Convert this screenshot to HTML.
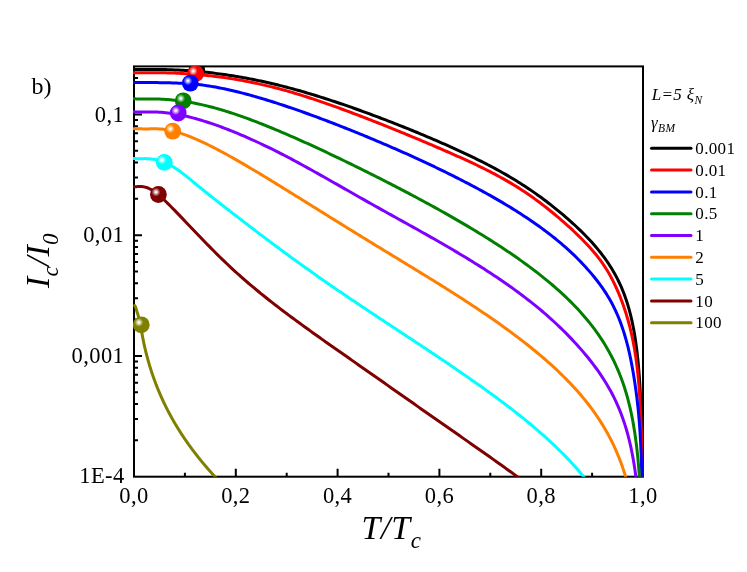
<!DOCTYPE html>
<html><head><meta charset="utf-8"><style>
html,body{margin:0;padding:0;background:#fff;}
svg{display:block;will-change:transform;font-family:"Liberation Serif",serif;}
text{fill:#000;}
</style></head><body>
<svg width="747" height="572" viewBox="0 0 747 572">
<defs>
<clipPath id="clip"><rect x="133.0" y="66.2" width="510.6" height="410.5"/></clipPath>
<radialGradient id="g_black" cx="0.357" cy="0.357" r="0.26"><stop offset="0" stop-color="#ffffff"/><stop offset="0.12" stop-color="#ffffff"/><stop offset="1" stop-color="#ffffff" stop-opacity="0"/></radialGradient><radialGradient id="g_red" cx="0.357" cy="0.357" r="0.26"><stop offset="0" stop-color="#ffffff"/><stop offset="0.12" stop-color="#ffffff"/><stop offset="1" stop-color="#ffffff" stop-opacity="0"/></radialGradient><radialGradient id="g_blue" cx="0.357" cy="0.357" r="0.26"><stop offset="0" stop-color="#ffffff"/><stop offset="0.12" stop-color="#ffffff"/><stop offset="1" stop-color="#ffffff" stop-opacity="0"/></radialGradient><radialGradient id="g_green" cx="0.357" cy="0.357" r="0.26"><stop offset="0" stop-color="#ffffff"/><stop offset="0.12" stop-color="#ffffff"/><stop offset="1" stop-color="#ffffff" stop-opacity="0"/></radialGradient><radialGradient id="g_purple" cx="0.357" cy="0.357" r="0.26"><stop offset="0" stop-color="#ffffff"/><stop offset="0.12" stop-color="#ffffff"/><stop offset="1" stop-color="#ffffff" stop-opacity="0"/></radialGradient><radialGradient id="g_orange" cx="0.357" cy="0.357" r="0.26"><stop offset="0" stop-color="#ffffff"/><stop offset="0.12" stop-color="#ffffff"/><stop offset="1" stop-color="#ffffff" stop-opacity="0"/></radialGradient><radialGradient id="g_cyan" cx="0.357" cy="0.357" r="0.26"><stop offset="0" stop-color="#ffffff"/><stop offset="0.12" stop-color="#ffffff"/><stop offset="1" stop-color="#ffffff" stop-opacity="0"/></radialGradient><radialGradient id="g_wine" cx="0.357" cy="0.357" r="0.26"><stop offset="0" stop-color="#ffffff"/><stop offset="0.12" stop-color="#ffffff"/><stop offset="1" stop-color="#ffffff" stop-opacity="0"/></radialGradient><radialGradient id="g_olive" cx="0.357" cy="0.357" r="0.26"><stop offset="0" stop-color="#ffffff"/><stop offset="0.12" stop-color="#ffffff"/><stop offset="1" stop-color="#ffffff" stop-opacity="0"/></radialGradient>
</defs>
<rect width="747" height="572" fill="#fff"/>
<path d="M134.00,476.7 v-8 M235.80,476.7 v-8 M337.60,476.7 v-8 M439.40,476.7 v-8 M541.20,476.7 v-8 M643.00,476.7 v-8 M184.90,476.7 v-4 M286.70,476.7 v-4 M388.50,476.7 v-4 M490.30,476.7 v-4 M592.10,476.7 v-4 M134.0,440.35 h4 M134.0,419.09 h4 M134.0,404.00 h4 M134.0,392.30 h4 M134.0,382.74 h4 M134.0,374.65 h4 M134.0,367.65 h4 M134.0,361.48 h4 M134.0,355.95 h8 M134.0,319.60 h4 M134.0,298.34 h4 M134.0,283.25 h4 M134.0,271.55 h4 M134.0,261.99 h4 M134.0,253.90 h4 M134.0,246.90 h4 M134.0,240.73 h4 M134.0,235.20 h8 M134.0,198.85 h4 M134.0,177.59 h4 M134.0,162.50 h4 M134.0,150.80 h4 M134.0,141.24 h4 M134.0,133.15 h4 M134.0,126.15 h4 M134.0,119.98 h4 M134.0,114.45 h8 M134.0,78.10 h4 M134.0,114.45 h8" stroke="#000" stroke-width="2" fill="none"/>
<rect x="134.0" y="66.4" width="509.0" height="410.29999999999995" fill="none" stroke="#000" stroke-width="2"/>
<g clip-path="url(#clip)">
<path d="M134.00,69.65 L134.26,69.64 L134.52,69.64 L134.78,69.63 L135.04,69.63 L135.31,69.62 L135.57,69.62 L135.83,69.61 L136.09,69.61 L136.35,69.60 L136.61,69.60 L136.87,69.59 L137.13,69.59 L137.39,69.58 L137.65,69.58 L137.92,69.57 L138.18,69.57 L138.44,69.56 L138.70,69.56 L138.96,69.55 L139.22,69.55 L139.48,69.54 L139.74,69.54 L140.00,69.53 L140.26,69.53 L140.53,69.52 L140.79,69.52 L141.05,69.52 L141.31,69.51 L141.57,69.51 L141.83,69.50 L142.09,69.50 L142.35,69.50 L142.61,69.49 L142.87,69.49 L143.14,69.48 L143.40,69.48 L143.66,69.48 L143.92,69.47 L144.18,69.47 L146.34,69.45 L148.50,69.43 L150.66,69.42 L152.83,69.42 L154.99,69.43 L157.15,69.44 L159.31,69.47 L161.47,69.50 L163.63,69.54 L165.80,69.59 L167.96,69.65 L170.12,69.72 L172.28,69.80 L174.44,69.89 L176.60,69.99 L178.76,70.10 L180.93,70.21 L183.09,70.34 L185.25,70.48 L187.41,70.62 L189.57,70.78 L191.73,70.94 L193.89,71.12 L196.06,71.30 L198.22,71.49 L200.38,71.70 L202.54,71.91 L204.70,72.13 L206.86,72.36 L209.03,72.60 L211.19,72.85 L213.35,73.11 L215.51,73.37 L217.67,73.65 L219.83,73.94 L221.99,74.23 L224.16,74.54 L226.32,74.85 L228.48,75.17 L230.64,75.50 L232.80,75.85 L234.96,76.20 L237.12,76.55 L239.29,76.92 L241.45,77.30 L243.61,77.68 L245.77,78.08 L247.93,78.48 L250.09,78.90 L252.26,79.32 L254.42,79.75 L256.58,80.19 L258.74,80.64 L260.90,81.09 L263.06,81.56 L265.22,82.03 L267.39,82.52 L269.55,83.01 L271.71,83.51 L273.87,84.02 L276.03,84.54 L278.19,85.06 L280.35,85.60 L282.52,86.14 L284.68,86.70 L286.84,87.26 L289.00,87.83 L291.16,88.41 L293.32,88.99 L295.49,89.59 L297.65,90.19 L299.81,90.80 L301.97,91.42 L304.13,92.05 L306.29,92.69 L308.45,93.33 L310.62,93.98 L312.78,94.63 L314.94,95.29 L317.10,95.96 L319.26,96.64 L321.42,97.32 L323.59,98.01 L325.75,98.70 L327.91,99.40 L330.07,100.10 L332.23,100.82 L334.39,101.53 L336.55,102.25 L338.72,102.98 L340.88,103.71 L343.04,104.45 L345.20,105.20 L347.36,105.94 L349.52,106.70 L351.68,107.45 L353.85,108.22 L356.01,108.98 L358.17,109.76 L360.33,110.53 L362.49,111.31 L364.65,112.10 L366.82,112.89 L368.98,113.69 L371.14,114.48 L373.30,115.29 L375.46,116.10 L377.62,116.91 L379.78,117.73 L381.95,118.55 L384.11,119.37 L386.27,120.20 L388.43,121.04 L390.59,121.87 L392.75,122.72 L394.91,123.56 L397.08,124.41 L399.24,125.27 L401.40,126.13 L403.56,126.99 L405.72,127.86 L407.88,128.73 L410.05,129.60 L412.21,130.49 L414.37,131.37 L416.53,132.26 L418.69,133.15 L420.85,134.05 L423.01,134.95 L425.18,135.86 L427.34,136.77 L429.50,137.69 L431.66,138.61 L433.82,139.54 L435.98,140.47 L438.14,141.40 L440.31,142.34 L442.47,143.29 L444.63,144.24 L446.79,145.20 L448.95,146.16 L451.11,147.12 L453.28,148.10 L455.44,149.08 L457.60,150.06 L459.76,151.05 L461.92,152.05 L464.08,153.06 L466.24,154.08 L468.41,155.10 L470.57,156.13 L472.73,157.17 L474.89,158.22 L477.05,159.28 L479.21,160.35 L481.38,161.44 L483.54,162.53 L485.70,163.63 L487.86,164.75 L490.02,165.88 L492.18,167.02 L494.34,168.18 L496.51,169.35 L498.67,170.53 L500.83,171.73 L502.99,172.94 L505.15,174.17 L507.31,175.42 L509.47,176.68 L511.64,177.96 L513.80,179.26 L515.96,180.58 L518.12,181.91 L520.28,183.27 L522.44,184.65 L524.61,186.05 L526.77,187.47 L528.93,188.91 L531.09,190.38 L533.25,191.87 L535.41,193.39 L537.57,194.93 L539.74,196.49 L541.90,198.07 L544.06,199.68 L546.22,201.31 L548.38,202.97 L550.54,204.64 L552.70,206.34 L554.87,208.06 L557.03,209.81 L559.19,211.58 L561.35,213.38 L563.51,215.20 L565.67,217.05 L567.84,218.93 L570.00,220.83 L572.16,222.77 L574.32,224.75 L576.48,226.76 L578.64,228.80 L580.80,230.89 L582.97,233.02 L585.13,235.20 L587.29,237.44 L589.45,239.73 L591.61,242.08 L593.77,244.51 L595.93,247.00 L598.10,249.59 L600.26,252.27 L602.42,255.05 L604.58,257.96 L606.74,261.00 L608.90,264.20 L611.07,267.58 L613.23,271.16 L615.39,274.99 L617.55,279.11 L618.84,281.74 L620.07,284.36 L621.24,286.98 L622.35,289.59 L623.40,292.20 L624.40,294.81 L625.34,297.42 L626.24,300.02 L627.09,302.63 L627.90,305.24 L628.67,307.85 L629.40,310.46 L630.09,313.08 L630.75,315.69 L631.37,318.31 L631.96,320.94 L632.53,323.56 L633.06,326.19 L633.56,328.82 L634.04,331.46 L634.50,334.09 L634.93,336.74 L635.34,339.38 L635.73,342.03 L636.10,344.68 L636.45,347.34 L636.79,350.00 L637.10,352.66 L637.40,355.32 L637.69,357.99 L637.96,360.66 L638.21,363.33 L638.46,366.01 L638.69,368.69 L638.91,371.37 L639.12,374.05 L639.31,376.74 L639.50,379.43 L639.68,382.12 L639.85,384.81 L640.01,387.51 L640.16,390.20 L640.31,392.90 L640.44,395.60 L640.57,398.31 L640.70,401.01 L640.81,403.72 L640.92,406.42 L641.03,409.13 L641.13,411.84 L641.23,414.56 L641.32,417.27 L641.40,419.98 L641.48,422.70 L641.56,425.41 L641.63,428.13 L641.70,430.85 L641.77,433.57 L641.83,436.29 L641.89,439.01 L641.95,441.73 L642.00,444.46 L642.05,447.18 L642.10,449.91 L642.15,452.63 L642.19,455.36 L642.23,458.08 L642.27,460.81 L642.31,463.54 L642.34,466.27 L642.38,469.00 L642.41,471.72 L642.44,474.45 L642.47,477.18 L642.49,479.92 L642.52,482.65" fill="none" stroke="#000000" stroke-width="3" stroke-linejoin="round" stroke-linecap="round"/>
<circle cx="196.8" cy="70.6" r="8.4" fill="#000000"/><circle cx="196.8" cy="70.6" r="8.4" fill="url(#g_black)"/>
<path d="M134.00,72.71 L134.26,72.71 L134.52,72.72 L134.78,72.72 L135.04,72.72 L135.31,72.72 L135.57,72.73 L135.83,72.73 L136.09,72.73 L136.35,72.73 L136.61,72.73 L136.87,72.74 L137.13,72.74 L137.39,72.74 L137.65,72.74 L137.92,72.74 L138.18,72.74 L138.44,72.74 L138.70,72.74 L138.96,72.74 L139.22,72.74 L139.48,72.74 L139.74,72.74 L140.00,72.74 L140.26,72.74 L140.53,72.74 L140.79,72.74 L141.05,72.74 L141.31,72.74 L141.57,72.74 L141.83,72.74 L142.09,72.74 L142.35,72.74 L142.61,72.74 L142.87,72.74 L143.14,72.74 L143.40,72.74 L143.66,72.74 L143.92,72.74 L144.18,72.74 L146.34,72.73 L148.50,72.73 L150.66,72.73 L152.83,72.73 L154.99,72.74 L157.15,72.75 L159.31,72.77 L161.47,72.80 L163.63,72.83 L165.80,72.87 L167.96,72.92 L170.12,72.98 L172.28,73.05 L174.44,73.12 L176.60,73.20 L178.76,73.30 L180.93,73.40 L183.09,73.51 L185.25,73.64 L187.41,73.77 L189.57,73.91 L191.73,74.06 L193.89,74.22 L196.06,74.39 L198.22,74.58 L200.38,74.77 L202.54,74.97 L204.70,75.18 L206.86,75.41 L209.03,75.64 L211.19,75.88 L213.35,76.14 L215.51,76.40 L217.67,76.68 L219.83,76.96 L221.99,77.26 L224.16,77.56 L226.32,77.88 L228.48,78.21 L230.64,78.54 L232.80,78.89 L234.96,79.25 L237.12,79.62 L239.29,79.99 L241.45,80.38 L243.61,80.78 L245.77,81.19 L247.93,81.61 L250.09,82.04 L252.26,82.48 L254.42,82.93 L256.58,83.39 L258.74,83.87 L260.90,84.35 L263.06,84.84 L265.22,85.34 L267.39,85.85 L269.55,86.38 L271.71,86.91 L273.87,87.45 L276.03,88.01 L278.19,88.57 L280.35,89.15 L282.52,89.73 L284.68,90.32 L286.84,90.93 L289.00,91.54 L291.16,92.17 L293.32,92.80 L295.49,93.45 L297.65,94.10 L299.81,94.76 L301.97,95.44 L304.13,96.12 L306.29,96.80 L308.45,97.50 L310.62,98.20 L312.78,98.92 L314.94,99.63 L317.10,100.36 L319.26,101.09 L321.42,101.83 L323.59,102.57 L325.75,103.33 L327.91,104.08 L330.07,104.84 L332.23,105.61 L334.39,106.38 L336.55,107.16 L338.72,107.95 L340.88,108.73 L343.04,109.53 L345.20,110.33 L347.36,111.13 L349.52,111.93 L351.68,112.74 L353.85,113.56 L356.01,114.38 L358.17,115.20 L360.33,116.02 L362.49,116.85 L364.65,117.69 L366.82,118.52 L368.98,119.36 L371.14,120.21 L373.30,121.05 L375.46,121.90 L377.62,122.76 L379.78,123.61 L381.95,124.47 L384.11,125.33 L386.27,126.20 L388.43,127.06 L390.59,127.93 L392.75,128.81 L394.91,129.68 L397.08,130.56 L399.24,131.44 L401.40,132.33 L403.56,133.21 L405.72,134.10 L407.88,134.99 L410.05,135.89 L412.21,136.78 L414.37,137.68 L416.53,138.58 L418.69,139.49 L420.85,140.39 L423.01,141.30 L425.18,142.22 L427.34,143.13 L429.50,144.05 L431.66,144.97 L433.82,145.89 L435.98,146.82 L438.14,147.75 L440.31,148.68 L442.47,149.62 L444.63,150.56 L446.79,151.50 L448.95,152.44 L451.11,153.39 L453.28,154.34 L455.44,155.30 L457.60,156.26 L459.76,157.23 L461.92,158.20 L464.08,159.18 L466.24,160.17 L468.41,161.16 L470.57,162.17 L472.73,163.18 L474.89,164.20 L477.05,165.23 L479.21,166.28 L481.38,167.33 L483.54,168.40 L485.70,169.48 L487.86,170.57 L490.02,171.68 L492.18,172.80 L494.34,173.94 L496.51,175.09 L498.67,176.26 L500.83,177.45 L502.99,178.65 L505.15,179.88 L507.31,181.12 L509.47,182.38 L511.64,183.66 L513.80,184.97 L515.96,186.29 L518.12,187.64 L520.28,189.01 L522.44,190.41 L524.61,191.83 L526.77,193.28 L528.93,194.75 L531.09,196.26 L533.25,197.79 L535.41,199.35 L537.57,200.93 L539.74,202.55 L541.90,204.18 L544.06,205.85 L546.22,207.54 L548.38,209.25 L550.54,210.98 L552.70,212.74 L554.87,214.53 L557.03,216.34 L559.19,218.17 L561.35,220.03 L563.51,221.91 L565.67,223.82 L567.84,225.76 L570.00,227.72 L572.16,229.72 L574.32,231.75 L576.48,233.81 L578.64,235.90 L580.80,238.04 L582.97,240.21 L585.13,242.43 L587.29,244.70 L589.45,247.04 L591.61,249.46 L593.77,251.96 L595.93,254.57 L598.10,257.30 L600.26,260.16 L602.42,263.18 L604.58,266.37 L606.74,269.75 L608.90,273.35 L611.07,277.20 L613.23,281.34 L615.39,285.80 L617.55,290.60 L618.84,293.66 L620.07,296.68 L621.24,299.68 L622.35,302.65 L623.40,305.58 L624.40,308.47 L625.34,311.34 L626.24,314.17 L627.09,316.98 L627.90,319.76 L628.67,322.51 L629.40,325.24 L630.09,327.95 L630.75,330.63 L631.37,333.31 L631.96,335.96 L632.53,338.61 L633.06,341.24 L633.56,343.87 L634.04,346.49 L634.50,349.10 L634.93,351.70 L635.34,354.30 L635.73,356.90 L636.10,359.50 L636.45,362.10 L636.79,364.69 L637.10,367.29 L637.40,369.88 L637.69,372.48 L637.96,375.08 L638.21,377.68 L638.46,380.29 L638.69,382.89 L638.91,385.50 L639.12,388.12 L639.31,390.74 L639.50,393.36 L639.68,395.98 L639.85,398.61 L640.01,401.24 L640.16,403.87 L640.31,406.51 L640.44,409.15 L640.57,411.80 L640.70,414.45 L640.81,417.10 L640.92,419.76 L641.03,422.41 L641.13,425.08 L641.23,427.74 L641.32,430.41 L641.40,433.08 L641.48,435.76 L641.56,438.43 L641.63,441.11 L641.70,443.80 L641.77,446.48 L641.83,449.17 L641.89,451.86 L641.95,454.55 L642.00,457.24 L642.05,459.94 L642.10,462.64 L642.15,465.34 L642.19,468.04 L642.23,470.74 L642.27,473.45 L642.31,476.15 L642.34,478.86 L642.38,481.57" fill="none" stroke="#ff0000" stroke-width="3" stroke-linejoin="round" stroke-linecap="round"/>
<circle cx="195.6" cy="73.5" r="8.4" fill="#ff0000"/><circle cx="195.6" cy="73.5" r="8.4" fill="url(#g_red)"/>
<path d="M134.00,82.50 L134.26,82.50 L134.52,82.50 L134.78,82.50 L135.04,82.50 L135.31,82.50 L135.57,82.50 L135.83,82.50 L136.09,82.50 L136.35,82.50 L136.61,82.50 L136.87,82.50 L137.13,82.50 L137.39,82.50 L137.65,82.50 L137.92,82.50 L138.18,82.50 L138.44,82.50 L138.70,82.50 L138.96,82.50 L139.22,82.51 L139.48,82.51 L139.74,82.51 L140.00,82.51 L140.26,82.51 L140.53,82.51 L140.79,82.51 L141.05,82.51 L141.31,82.51 L141.57,82.51 L141.83,82.51 L142.09,82.51 L142.35,82.51 L142.61,82.51 L142.87,82.51 L143.14,82.51 L143.40,82.52 L143.66,82.52 L143.92,82.52 L144.18,82.52 L146.34,82.53 L148.50,82.54 L150.66,82.56 L152.83,82.58 L154.99,82.60 L157.15,82.62 L159.31,82.66 L161.47,82.69 L163.63,82.73 L165.80,82.77 L167.96,82.82 L170.12,82.87 L172.28,82.93 L174.44,83.00 L176.60,83.07 L178.76,83.16 L180.93,83.25 L183.09,83.36 L185.25,83.49 L187.41,83.63 L189.57,83.78 L191.73,83.96 L193.89,84.15 L196.06,84.35 L198.22,84.58 L200.38,84.83 L202.54,85.09 L204.70,85.38 L206.86,85.68 L209.03,86.01 L211.19,86.36 L213.35,86.72 L215.51,87.10 L217.67,87.50 L219.83,87.92 L221.99,88.35 L224.16,88.79 L226.32,89.26 L228.48,89.73 L230.64,90.22 L232.80,90.72 L234.96,91.23 L237.12,91.76 L239.29,92.30 L241.45,92.85 L243.61,93.41 L245.77,93.98 L247.93,94.56 L250.09,95.15 L252.26,95.75 L254.42,96.36 L256.58,96.98 L258.74,97.61 L260.90,98.24 L263.06,98.89 L265.22,99.54 L267.39,100.20 L269.55,100.87 L271.71,101.55 L273.87,102.23 L276.03,102.92 L278.19,103.62 L280.35,104.33 L282.52,105.04 L284.68,105.75 L286.84,106.48 L289.00,107.21 L291.16,107.94 L293.32,108.69 L295.49,109.43 L297.65,110.19 L299.81,110.94 L301.97,111.71 L304.13,112.48 L306.29,113.25 L308.45,114.03 L310.62,114.82 L312.78,115.60 L314.94,116.40 L317.10,117.20 L319.26,118.00 L321.42,118.81 L323.59,119.62 L325.75,120.44 L327.91,121.26 L330.07,122.09 L332.23,122.92 L334.39,123.75 L336.55,124.59 L338.72,125.43 L340.88,126.28 L343.04,127.13 L345.20,127.98 L347.36,128.84 L349.52,129.71 L351.68,130.57 L353.85,131.44 L356.01,132.32 L358.17,133.20 L360.33,134.08 L362.49,134.96 L364.65,135.85 L366.82,136.75 L368.98,137.64 L371.14,138.54 L373.30,139.45 L375.46,140.36 L377.62,141.27 L379.78,142.19 L381.95,143.11 L384.11,144.03 L386.27,144.96 L388.43,145.89 L390.59,146.83 L392.75,147.77 L394.91,148.71 L397.08,149.66 L399.24,150.61 L401.40,151.57 L403.56,152.53 L405.72,153.49 L407.88,154.46 L410.05,155.44 L412.21,156.42 L414.37,157.40 L416.53,158.39 L418.69,159.38 L420.85,160.38 L423.01,161.38 L425.18,162.38 L427.34,163.40 L429.50,164.41 L431.66,165.43 L433.82,166.46 L435.98,167.49 L438.14,168.53 L440.31,169.58 L442.47,170.63 L444.63,171.68 L446.79,172.74 L448.95,173.81 L451.11,174.88 L453.28,175.96 L455.44,177.05 L457.60,178.14 L459.76,179.24 L461.92,180.34 L464.08,181.46 L466.24,182.57 L468.41,183.70 L470.57,184.84 L472.73,185.98 L474.89,187.13 L477.05,188.29 L479.21,189.46 L481.38,190.63 L483.54,191.82 L485.70,193.01 L487.86,194.21 L490.02,195.42 L492.18,196.65 L494.34,197.88 L496.51,199.12 L498.67,200.37 L500.83,201.64 L502.99,202.91 L505.15,204.20 L507.31,205.50 L509.47,206.81 L511.64,208.14 L513.80,209.48 L515.96,210.83 L518.12,212.20 L520.28,213.58 L522.44,214.98 L524.61,216.39 L526.77,217.83 L528.93,219.27 L531.09,220.74 L533.25,222.23 L535.41,223.73 L537.57,225.25 L539.74,226.80 L541.90,228.37 L544.06,229.96 L546.22,231.58 L548.38,233.22 L550.54,234.88 L552.70,236.58 L554.87,238.30 L557.03,240.06 L559.19,241.85 L561.35,243.67 L563.51,245.53 L565.67,247.42 L567.84,249.36 L570.00,251.33 L572.16,253.36 L574.32,255.42 L576.48,257.54 L578.64,259.70 L580.80,261.92 L582.97,264.19 L585.13,266.52 L587.29,268.91 L589.45,271.37 L591.61,273.90 L593.77,276.51 L595.93,279.21 L598.10,282.00 L600.26,284.90 L602.42,287.92 L604.58,291.08 L606.74,294.43 L608.90,297.98 L611.07,301.78 L613.23,305.88 L615.39,310.32 L617.55,315.16 L618.84,318.28 L620.07,321.41 L621.24,324.56 L622.35,327.71 L623.40,330.87 L624.40,334.04 L625.34,337.21 L626.24,340.39 L627.09,343.56 L627.90,346.73 L628.67,349.90 L629.40,353.07 L630.09,356.23 L630.75,359.38 L631.37,362.53 L631.96,365.66 L632.53,368.76 L633.06,371.83 L633.56,374.84 L634.04,377.81 L634.50,380.72 L634.93,383.58 L635.34,386.39 L635.73,389.16 L636.10,391.87 L636.45,394.55 L636.79,397.18 L637.10,399.78 L637.40,402.35 L637.69,404.89 L637.96,407.41 L638.21,409.90 L638.46,412.38 L638.69,414.84 L638.91,417.29 L639.12,419.72 L639.31,422.16 L639.50,424.58 L639.68,427.00 L639.85,429.42 L640.01,431.84 L640.16,434.26 L640.31,436.69 L640.44,439.11 L640.57,441.54 L640.70,443.98 L640.81,446.42 L640.92,448.87 L641.03,451.32 L641.13,453.79 L641.23,456.26 L641.32,458.73 L641.40,461.22 L641.48,463.71 L641.56,466.21 L641.63,468.72 L641.70,471.24 L641.77,473.76 L641.83,476.29 L641.89,478.83 L641.95,481.38" fill="none" stroke="#0000ff" stroke-width="3" stroke-linejoin="round" stroke-linecap="round"/>
<circle cx="190.3" cy="83.2" r="8.4" fill="#0000ff"/><circle cx="190.3" cy="83.2" r="8.4" fill="url(#g_blue)"/>
<path d="M134.00,98.84 L134.26,98.85 L134.52,98.85 L134.78,98.86 L135.04,98.86 L135.31,98.87 L135.57,98.87 L135.83,98.87 L136.09,98.88 L136.35,98.88 L136.61,98.88 L136.87,98.88 L137.13,98.89 L137.39,98.89 L137.65,98.89 L137.92,98.89 L138.18,98.89 L138.44,98.89 L138.70,98.90 L138.96,98.90 L139.22,98.90 L139.48,98.90 L139.74,98.90 L140.00,98.90 L140.26,98.90 L140.53,98.90 L140.79,98.90 L141.05,98.90 L141.31,98.90 L141.57,98.90 L141.83,98.90 L142.09,98.90 L142.35,98.90 L142.61,98.90 L142.87,98.90 L143.14,98.90 L143.40,98.90 L143.66,98.90 L143.92,98.90 L144.18,98.90 L146.34,98.90 L148.50,98.90 L150.66,98.92 L152.83,98.95 L154.99,98.99 L157.15,99.04 L159.31,99.12 L161.47,99.21 L163.63,99.32 L165.80,99.45 L167.96,99.60 L170.12,99.77 L172.28,99.96 L174.44,100.17 L176.60,100.41 L178.76,100.66 L180.93,100.94 L183.09,101.23 L185.25,101.55 L187.41,101.89 L189.57,102.25 L191.73,102.64 L193.89,103.04 L196.06,103.46 L198.22,103.91 L200.38,104.37 L202.54,104.85 L204.70,105.36 L206.86,105.88 L209.03,106.42 L211.19,106.98 L213.35,107.55 L215.51,108.14 L217.67,108.75 L219.83,109.37 L221.99,110.01 L224.16,110.66 L226.32,111.33 L228.48,112.01 L230.64,112.70 L232.80,113.41 L234.96,114.13 L237.12,114.87 L239.29,115.61 L241.45,116.37 L243.61,117.14 L245.77,117.92 L247.93,118.71 L250.09,119.51 L252.26,120.32 L254.42,121.14 L256.58,121.97 L258.74,122.81 L260.90,123.66 L263.06,124.51 L265.22,125.37 L267.39,126.24 L269.55,127.12 L271.71,128.01 L273.87,128.90 L276.03,129.80 L278.19,130.70 L280.35,131.62 L282.52,132.53 L284.68,133.46 L286.84,134.39 L289.00,135.32 L291.16,136.27 L293.32,137.21 L295.49,138.17 L297.65,139.12 L299.81,140.09 L301.97,141.05 L304.13,142.02 L306.29,143.00 L308.45,143.98 L310.62,144.97 L312.78,145.96 L314.94,146.95 L317.10,147.95 L319.26,148.95 L321.42,149.96 L323.59,150.97 L325.75,151.98 L327.91,153.00 L330.07,154.02 L332.23,155.05 L334.39,156.08 L336.55,157.11 L338.72,158.15 L340.88,159.19 L343.04,160.23 L345.20,161.27 L347.36,162.32 L349.52,163.37 L351.68,164.43 L353.85,165.49 L356.01,166.55 L358.17,167.62 L360.33,168.68 L362.49,169.75 L364.65,170.83 L366.82,171.91 L368.98,172.99 L371.14,174.07 L373.30,175.15 L375.46,176.24 L377.62,177.34 L379.78,178.43 L381.95,179.53 L384.11,180.63 L386.27,181.73 L388.43,182.84 L390.59,183.95 L392.75,185.06 L394.91,186.18 L397.08,187.30 L399.24,188.43 L401.40,189.55 L403.56,190.68 L405.72,191.82 L407.88,192.95 L410.05,194.10 L412.21,195.24 L414.37,196.39 L416.53,197.54 L418.69,198.70 L420.85,199.86 L423.01,201.03 L425.18,202.20 L427.34,203.37 L429.50,204.55 L431.66,205.73 L433.82,206.92 L435.98,208.11 L438.14,209.31 L440.31,210.51 L442.47,211.72 L444.63,212.93 L446.79,214.15 L448.95,215.37 L451.11,216.60 L453.28,217.84 L455.44,219.08 L457.60,220.33 L459.76,221.58 L461.92,222.84 L464.08,224.10 L466.24,225.38 L468.41,226.66 L470.57,227.95 L472.73,229.24 L474.89,230.54 L477.05,231.85 L479.21,233.17 L481.38,234.49 L483.54,235.83 L485.70,237.17 L487.86,238.52 L490.02,239.89 L492.18,241.26 L494.34,242.64 L496.51,244.03 L498.67,245.43 L500.83,246.84 L502.99,248.26 L505.15,249.70 L507.31,251.15 L509.47,252.60 L511.64,254.08 L513.80,255.56 L515.96,257.06 L518.12,258.57 L520.28,260.10 L522.44,261.64 L524.61,263.20 L526.77,264.78 L528.93,266.37 L531.09,267.98 L533.25,269.61 L535.41,271.26 L537.57,272.92 L539.74,274.61 L541.90,276.33 L544.06,278.06 L546.22,279.82 L548.38,281.60 L550.54,283.41 L552.70,285.25 L554.87,287.11 L557.03,289.01 L559.19,290.94 L561.35,292.90 L563.51,294.90 L565.67,296.94 L567.84,299.01 L570.00,301.13 L572.16,303.30 L574.32,305.51 L576.48,307.77 L578.64,310.09 L580.80,312.46 L582.97,314.90 L585.13,317.40 L587.29,319.98 L589.45,322.63 L591.61,325.37 L593.77,328.20 L595.93,331.13 L598.10,334.18 L600.26,337.34 L602.42,340.63 L604.58,344.07 L606.74,347.68 L608.90,351.47 L611.07,355.48 L613.23,359.72 L615.39,364.24 L617.55,369.08 L618.84,372.15 L620.07,375.21 L621.24,378.26 L622.35,381.28 L623.40,384.30 L624.40,387.29 L625.34,390.28 L626.24,393.25 L627.09,396.21 L627.90,399.16 L628.67,402.10 L629.40,405.02 L630.09,407.94 L630.75,410.85 L631.37,413.75 L631.96,416.64 L632.53,419.52 L633.06,422.40 L633.56,425.27 L634.04,428.13 L634.50,430.99 L634.93,433.84 L635.34,436.68 L635.73,439.52 L636.10,442.35 L636.45,445.18 L636.79,448.01 L637.10,450.83 L637.40,453.64 L637.69,456.45 L637.96,459.26 L638.21,462.07 L638.46,464.87 L638.69,467.67 L638.91,470.46 L639.12,473.25 L639.31,476.04 L639.50,478.83 L639.68,481.61" fill="none" stroke="#007f00" stroke-width="3" stroke-linejoin="round" stroke-linecap="round"/>
<circle cx="183.2" cy="100.8" r="8.4" fill="#007f00"/><circle cx="183.2" cy="100.8" r="8.4" fill="url(#g_green)"/>
<path d="M134.00,111.81 L134.26,111.83 L134.52,111.85 L134.78,111.87 L135.04,111.89 L135.31,111.91 L135.57,111.92 L135.83,111.94 L136.09,111.95 L136.35,111.96 L136.61,111.98 L136.87,111.99 L137.13,112.00 L137.39,112.00 L137.65,112.01 L137.92,112.02 L138.18,112.03 L138.44,112.03 L138.70,112.04 L138.96,112.04 L139.22,112.04 L139.48,112.05 L139.74,112.05 L140.00,112.05 L140.26,112.05 L140.53,112.06 L140.79,112.06 L141.05,112.06 L141.31,112.06 L141.57,112.06 L141.83,112.06 L142.09,112.06 L142.35,112.06 L142.61,112.05 L142.87,112.05 L143.14,112.05 L143.40,112.05 L143.66,112.05 L143.92,112.05 L144.18,112.04 L146.34,112.02 L148.50,112.01 L150.66,112.00 L152.83,112.01 L154.99,112.04 L157.15,112.11 L159.31,112.20 L161.47,112.33 L163.63,112.49 L165.80,112.70 L167.96,112.94 L170.12,113.21 L172.28,113.52 L174.44,113.87 L176.60,114.24 L178.76,114.64 L180.93,115.07 L183.09,115.52 L185.25,116.00 L187.41,116.51 L189.57,117.03 L191.73,117.58 L193.89,118.15 L196.06,118.75 L198.22,119.36 L200.38,119.99 L202.54,120.64 L204.70,121.31 L206.86,122.00 L209.03,122.70 L211.19,123.42 L213.35,124.15 L215.51,124.91 L217.67,125.67 L219.83,126.45 L221.99,127.25 L224.16,128.06 L226.32,128.89 L228.48,129.73 L230.64,130.58 L232.80,131.44 L234.96,132.32 L237.12,133.21 L239.29,134.11 L241.45,135.02 L243.61,135.95 L245.77,136.89 L247.93,137.83 L250.09,138.79 L252.26,139.76 L254.42,140.75 L256.58,141.74 L258.74,142.74 L260.90,143.75 L263.06,144.77 L265.22,145.81 L267.39,146.85 L269.55,147.90 L271.71,148.96 L273.87,150.03 L276.03,151.11 L278.19,152.20 L280.35,153.30 L282.52,154.41 L284.68,155.52 L286.84,156.65 L289.00,157.78 L291.16,158.93 L293.32,160.08 L295.49,161.24 L297.65,162.40 L299.81,163.57 L301.97,164.75 L304.13,165.94 L306.29,167.13 L308.45,168.32 L310.62,169.52 L312.78,170.73 L314.94,171.94 L317.10,173.15 L319.26,174.36 L321.42,175.58 L323.59,176.80 L325.75,178.02 L327.91,179.25 L330.07,180.48 L332.23,181.70 L334.39,182.93 L336.55,184.16 L338.72,185.39 L340.88,186.62 L343.04,187.86 L345.20,189.09 L347.36,190.32 L349.52,191.55 L351.68,192.78 L353.85,194.01 L356.01,195.24 L358.17,196.46 L360.33,197.69 L362.49,198.91 L364.65,200.14 L366.82,201.36 L368.98,202.58 L371.14,203.79 L373.30,205.01 L375.46,206.22 L377.62,207.43 L379.78,208.64 L381.95,209.84 L384.11,211.05 L386.27,212.25 L388.43,213.45 L390.59,214.65 L392.75,215.85 L394.91,217.05 L397.08,218.25 L399.24,219.45 L401.40,220.65 L403.56,221.84 L405.72,223.04 L407.88,224.25 L410.05,225.45 L412.21,226.65 L414.37,227.86 L416.53,229.06 L418.69,230.27 L420.85,231.48 L423.01,232.69 L425.18,233.91 L427.34,235.13 L429.50,236.35 L431.66,237.58 L433.82,238.81 L435.98,240.04 L438.14,241.27 L440.31,242.52 L442.47,243.76 L444.63,245.01 L446.79,246.27 L448.95,247.53 L451.11,248.79 L453.28,250.06 L455.44,251.34 L457.60,252.63 L459.76,253.92 L461.92,255.21 L464.08,256.52 L466.24,257.83 L468.41,259.15 L470.57,260.47 L472.73,261.81 L474.89,263.15 L477.05,264.50 L479.21,265.86 L481.38,267.23 L483.54,268.61 L485.70,270.00 L487.86,271.40 L490.02,272.81 L492.18,274.23 L494.34,275.66 L496.51,277.11 L498.67,278.57 L500.83,280.03 L502.99,281.52 L505.15,283.01 L507.31,284.52 L509.47,286.05 L511.64,287.58 L513.80,289.14 L515.96,290.71 L518.12,292.29 L520.28,293.90 L522.44,295.52 L524.61,297.16 L526.77,298.82 L528.93,300.50 L531.09,302.19 L533.25,303.91 L535.41,305.66 L537.57,307.42 L539.74,309.21 L541.90,311.02 L544.06,312.86 L546.22,314.73 L548.38,316.62 L550.54,318.55 L552.70,320.50 L554.87,322.49 L557.03,324.51 L559.19,326.56 L561.35,328.65 L563.51,330.77 L565.67,332.92 L567.84,335.12 L570.00,337.35 L572.16,339.62 L574.32,341.93 L576.48,344.28 L578.64,346.68 L580.80,349.13 L582.97,351.63 L585.13,354.19 L587.29,356.81 L589.45,359.49 L591.61,362.24 L593.77,365.07 L595.93,367.99 L598.10,370.99 L600.26,374.11 L602.42,377.33 L604.58,380.69 L606.74,384.21 L608.90,387.91 L611.07,391.81 L613.23,395.95 L615.39,400.37 L617.55,405.11 L618.84,408.14 L620.07,411.15 L621.24,414.16 L622.35,417.15 L623.40,420.13 L624.40,423.11 L625.34,426.08 L626.24,429.04 L627.09,431.99 L627.90,434.93 L628.67,437.87 L629.40,440.80 L630.09,443.72 L630.75,446.63 L631.37,449.54 L631.96,452.44 L632.53,455.35 L633.06,458.25 L633.56,461.15 L634.04,464.05 L634.50,466.95 L634.93,469.86 L635.34,472.76 L635.73,475.66 L636.10,478.57 L636.45,481.47" fill="none" stroke="#7f00ff" stroke-width="3" stroke-linejoin="round" stroke-linecap="round"/>
<circle cx="178.2" cy="113.0" r="8.4" fill="#7f00ff"/><circle cx="178.2" cy="113.0" r="8.4" fill="url(#g_purple)"/>
<path d="M134.00,128.63 L134.26,128.64 L134.52,128.65 L134.78,128.66 L135.04,128.67 L135.31,128.68 L135.57,128.69 L135.83,128.69 L136.09,128.70 L136.35,128.71 L136.61,128.72 L136.87,128.73 L137.13,128.74 L137.39,128.75 L137.65,128.76 L137.92,128.76 L138.18,128.77 L138.44,128.78 L138.70,128.79 L138.96,128.80 L139.22,128.80 L139.48,128.81 L139.74,128.82 L140.00,128.83 L140.26,128.83 L140.53,128.84 L140.79,128.85 L141.05,128.85 L141.31,128.86 L141.57,128.86 L141.83,128.87 L142.09,128.87 L142.35,128.88 L142.61,128.88 L142.87,128.89 L143.14,128.89 L143.40,128.90 L143.66,128.90 L143.92,128.90 L144.18,128.91 L146.34,128.92 L148.50,128.91 L150.66,128.87 L152.83,128.83 L154.99,128.82 L157.15,128.84 L159.31,128.92 L161.47,129.07 L163.63,129.30 L165.80,129.61 L167.96,129.98 L170.12,130.41 L172.28,130.91 L174.44,131.45 L176.60,132.05 L178.76,132.70 L180.93,133.38 L183.09,134.11 L185.25,134.88 L187.41,135.68 L189.57,136.52 L191.73,137.38 L193.89,138.28 L196.06,139.20 L198.22,140.15 L200.38,141.13 L202.54,142.13 L204.70,143.15 L206.86,144.19 L209.03,145.25 L211.19,146.32 L213.35,147.42 L215.51,148.53 L217.67,149.66 L219.83,150.80 L221.99,151.95 L224.16,153.12 L226.32,154.30 L228.48,155.49 L230.64,156.70 L232.80,157.91 L234.96,159.13 L237.12,160.36 L239.29,161.61 L241.45,162.85 L243.61,164.11 L245.77,165.37 L247.93,166.64 L250.09,167.92 L252.26,169.20 L254.42,170.49 L256.58,171.78 L258.74,173.08 L260.90,174.39 L263.06,175.69 L265.22,177.00 L267.39,178.32 L269.55,179.64 L271.71,180.96 L273.87,182.28 L276.03,183.61 L278.19,184.94 L280.35,186.27 L282.52,187.61 L284.68,188.94 L286.84,190.28 L289.00,191.62 L291.16,192.96 L293.32,194.30 L295.49,195.65 L297.65,196.99 L299.81,198.33 L301.97,199.68 L304.13,201.03 L306.29,202.37 L308.45,203.72 L310.62,205.06 L312.78,206.41 L314.94,207.76 L317.10,209.10 L319.26,210.45 L321.42,211.80 L323.59,213.14 L325.75,214.49 L327.91,215.83 L330.07,217.18 L332.23,218.52 L334.39,219.86 L336.55,221.20 L338.72,222.54 L340.88,223.88 L343.04,225.22 L345.20,226.56 L347.36,227.90 L349.52,229.23 L351.68,230.57 L353.85,231.90 L356.01,233.23 L358.17,234.56 L360.33,235.89 L362.49,237.22 L364.65,238.55 L366.82,239.88 L368.98,241.20 L371.14,242.52 L373.30,243.85 L375.46,245.17 L377.62,246.49 L379.78,247.81 L381.95,249.12 L384.11,250.44 L386.27,251.76 L388.43,253.07 L390.59,254.39 L392.75,255.70 L394.91,257.02 L397.08,258.33 L399.24,259.65 L401.40,260.96 L403.56,262.28 L405.72,263.60 L407.88,264.92 L410.05,266.23 L412.21,267.55 L414.37,268.88 L416.53,270.20 L418.69,271.52 L420.85,272.85 L423.01,274.18 L425.18,275.51 L427.34,276.84 L429.50,278.17 L431.66,279.51 L433.82,280.85 L435.98,282.20 L438.14,283.54 L440.31,284.89 L442.47,286.25 L444.63,287.60 L446.79,288.96 L448.95,290.33 L451.11,291.70 L453.28,293.07 L455.44,294.45 L457.60,295.83 L459.76,297.22 L461.92,298.61 L464.08,300.01 L466.24,301.42 L468.41,302.83 L470.57,304.24 L472.73,305.67 L474.89,307.10 L477.05,308.53 L479.21,309.98 L481.38,311.43 L483.54,312.89 L485.70,314.36 L487.86,315.83 L490.02,317.32 L492.18,318.81 L494.34,320.31 L496.51,321.83 L498.67,323.35 L500.83,324.88 L502.99,326.43 L505.15,327.98 L507.31,329.55 L509.47,331.13 L511.64,332.72 L513.80,334.33 L515.96,335.95 L518.12,337.58 L520.28,339.23 L522.44,340.89 L524.61,342.57 L526.77,344.26 L528.93,345.98 L531.09,347.71 L533.25,349.46 L535.41,351.22 L537.57,353.01 L539.74,354.82 L541.90,356.66 L544.06,358.51 L546.22,360.39 L548.38,362.30 L550.54,364.23 L552.70,366.19 L554.87,368.18 L557.03,370.20 L559.19,372.26 L561.35,374.35 L563.51,376.47 L565.67,378.63 L567.84,380.84 L570.00,383.08 L572.16,385.38 L574.32,387.72 L576.48,390.11 L578.64,392.56 L580.80,395.06 L582.97,397.63 L585.13,400.27 L587.29,402.98 L589.45,405.77 L591.61,408.64 L593.77,411.61 L595.93,414.68 L598.10,417.85 L600.26,421.15 L602.42,424.59 L604.58,428.17 L606.74,431.92 L608.90,435.85 L611.07,440.00 L613.23,444.39 L615.39,449.05 L617.55,454.04 L618.84,457.21 L620.07,460.35 L621.24,463.47 L622.35,466.58 L623.40,469.66 L624.40,472.73 L625.34,475.78 L626.24,478.81 L627.09,481.83" fill="none" stroke="#ff7f00" stroke-width="3" stroke-linejoin="round" stroke-linecap="round"/>
<circle cx="172.7" cy="131.2" r="8.4" fill="#ff7f00"/><circle cx="172.7" cy="131.2" r="8.4" fill="url(#g_orange)"/>
<path d="M134.00,158.47 L134.26,158.50 L134.52,158.53 L134.78,158.55 L135.04,158.57 L135.31,158.59 L135.57,158.61 L135.83,158.62 L136.09,158.63 L136.35,158.64 L136.61,158.65 L136.87,158.66 L137.13,158.67 L137.39,158.67 L137.65,158.68 L137.92,158.68 L138.18,158.68 L138.44,158.68 L138.70,158.68 L138.96,158.68 L139.22,158.68 L139.48,158.68 L139.74,158.68 L140.00,158.67 L140.26,158.67 L140.53,158.67 L140.79,158.66 L141.05,158.66 L141.31,158.66 L141.57,158.65 L141.83,158.65 L142.09,158.64 L142.35,158.64 L142.61,158.64 L142.87,158.63 L143.14,158.63 L143.40,158.63 L143.66,158.63 L143.92,158.62 L144.18,158.62 L146.34,158.64 L148.50,158.72 L150.66,158.88 L152.83,159.14 L154.99,159.50 L157.15,159.99 L159.31,160.58 L161.47,161.28 L163.63,162.09 L165.80,163.00 L167.96,164.01 L170.12,165.12 L172.28,166.33 L174.44,167.63 L176.60,169.02 L178.76,170.50 L180.93,172.07 L183.09,173.71 L185.25,175.41 L187.41,177.16 L189.57,178.93 L191.73,180.71 L193.89,182.49 L196.06,184.27 L198.22,186.04 L200.38,187.79 L202.54,189.54 L204.70,191.28 L206.86,193.01 L209.03,194.74 L211.19,196.45 L213.35,198.16 L215.51,199.87 L217.67,201.57 L219.83,203.26 L221.99,204.95 L224.16,206.64 L226.32,208.32 L228.48,210.00 L230.64,211.67 L232.80,213.35 L234.96,215.02 L237.12,216.68 L239.29,218.35 L241.45,220.01 L243.61,221.67 L245.77,223.33 L247.93,224.99 L250.09,226.64 L252.26,228.29 L254.42,229.94 L256.58,231.58 L258.74,233.22 L260.90,234.86 L263.06,236.49 L265.22,238.12 L267.39,239.74 L269.55,241.37 L271.71,242.98 L273.87,244.60 L276.03,246.20 L278.19,247.81 L280.35,249.41 L282.52,251.01 L284.68,252.60 L286.84,254.18 L289.00,255.77 L291.16,257.34 L293.32,258.92 L295.49,260.49 L297.65,262.05 L299.81,263.61 L301.97,265.17 L304.13,266.72 L306.29,268.26 L308.45,269.80 L310.62,271.34 L312.78,272.87 L314.94,274.39 L317.10,275.91 L319.26,277.43 L321.42,278.94 L323.59,280.45 L325.75,281.95 L327.91,283.45 L330.07,284.94 L332.23,286.43 L334.39,287.91 L336.55,289.39 L338.72,290.87 L340.88,292.34 L343.04,293.81 L345.20,295.28 L347.36,296.74 L349.52,298.20 L351.68,299.66 L353.85,301.11 L356.01,302.56 L358.17,304.01 L360.33,305.46 L362.49,306.90 L364.65,308.34 L366.82,309.78 L368.98,311.22 L371.14,312.66 L373.30,314.09 L375.46,315.52 L377.62,316.96 L379.78,318.39 L381.95,319.81 L384.11,321.24 L386.27,322.67 L388.43,324.10 L390.59,325.52 L392.75,326.95 L394.91,328.37 L397.08,329.80 L399.24,331.22 L401.40,332.65 L403.56,334.07 L405.72,335.50 L407.88,336.93 L410.05,338.35 L412.21,339.78 L414.37,341.21 L416.53,342.64 L418.69,344.07 L420.85,345.50 L423.01,346.93 L425.18,348.37 L427.34,349.80 L429.50,351.24 L431.66,352.68 L433.82,354.12 L435.98,355.57 L438.14,357.02 L440.31,358.47 L442.47,359.92 L444.63,361.37 L446.79,362.83 L448.95,364.30 L451.11,365.76 L453.28,367.23 L455.44,368.71 L457.60,370.18 L459.76,371.66 L461.92,373.15 L464.08,374.64 L466.24,376.14 L468.41,377.64 L470.57,379.15 L472.73,380.66 L474.89,382.18 L477.05,383.70 L479.21,385.23 L481.38,386.77 L483.54,388.32 L485.70,389.87 L487.86,391.43 L490.02,392.99 L492.18,394.57 L494.34,396.15 L496.51,397.75 L498.67,399.35 L500.83,400.96 L502.99,402.58 L505.15,404.21 L507.31,405.85 L509.47,407.51 L511.64,409.17 L513.80,410.85 L515.96,412.54 L518.12,414.24 L520.28,415.96 L522.44,417.69 L524.61,419.44 L526.77,421.20 L528.93,422.98 L531.09,424.77 L533.25,426.59 L535.41,428.42 L537.57,430.27 L539.74,432.14 L541.90,434.03 L544.06,435.94 L546.22,437.88 L548.38,439.84 L550.54,441.83 L552.70,443.85 L554.87,445.89 L557.03,447.96 L559.19,450.07 L561.35,452.21 L563.51,454.38 L565.67,456.59 L567.84,458.84 L570.00,461.13 L572.16,463.47 L574.32,465.85 L576.48,468.28 L578.64,470.77 L580.80,473.32 L582.97,475.93 L585.13,478.60 L587.29,481.35" fill="none" stroke="#00ffff" stroke-width="3" stroke-linejoin="round" stroke-linecap="round"/>
<circle cx="164.3" cy="162.4" r="8.4" fill="#00ffff"/><circle cx="164.3" cy="162.4" r="8.4" fill="url(#g_cyan)"/>
<path d="M134.00,186.88 L134.26,186.85 L134.52,186.83 L134.78,186.81 L135.04,186.79 L135.31,186.76 L135.57,186.74 L135.83,186.72 L136.09,186.69 L136.35,186.67 L136.61,186.65 L136.87,186.63 L137.13,186.61 L137.39,186.59 L137.65,186.58 L137.92,186.56 L138.18,186.55 L138.44,186.53 L138.70,186.52 L138.96,186.52 L139.22,186.51 L139.48,186.51 L139.74,186.50 L140.00,186.51 L140.26,186.51 L140.53,186.51 L140.79,186.52 L141.05,186.53 L141.31,186.55 L141.57,186.56 L141.83,186.58 L142.09,186.61 L142.35,186.63 L142.61,186.66 L142.87,186.69 L143.14,186.73 L143.40,186.77 L143.66,186.81 L143.92,186.85 L144.18,186.90 L146.34,187.45 L148.50,188.25 L150.66,189.29 L152.83,190.58 L154.99,192.06 L157.15,193.71 L159.31,195.50 L161.47,197.41 L163.63,199.40 L165.80,201.47 L167.96,203.59 L170.12,205.75 L172.28,207.94 L174.44,210.15 L176.60,212.38 L178.76,214.63 L180.93,216.88 L183.09,219.15 L185.25,221.42 L187.41,223.69 L189.57,225.97 L191.73,228.24 L193.89,230.51 L196.06,232.77 L198.22,235.03 L200.38,237.28 L202.54,239.52 L204.70,241.75 L206.86,243.97 L209.03,246.17 L211.19,248.36 L213.35,250.53 L215.51,252.69 L217.67,254.83 L219.83,256.96 L221.99,259.06 L224.16,261.15 L226.32,263.22 L228.48,265.26 L230.64,267.29 L232.80,269.30 L234.96,271.28 L237.12,273.24 L239.29,275.18 L241.45,277.10 L243.61,279.00 L245.77,280.88 L247.93,282.74 L250.09,284.58 L252.26,286.40 L254.42,288.21 L256.58,290.00 L258.74,291.78 L260.90,293.54 L263.06,295.28 L265.22,297.02 L267.39,298.74 L269.55,300.45 L271.71,302.14 L273.87,303.83 L276.03,305.50 L278.19,307.16 L280.35,308.82 L282.52,310.46 L284.68,312.10 L286.84,313.72 L289.00,315.34 L291.16,316.95 L293.32,318.55 L295.49,320.15 L297.65,321.74 L299.81,323.32 L301.97,324.90 L304.13,326.47 L306.29,328.03 L308.45,329.59 L310.62,331.14 L312.78,332.69 L314.94,334.24 L317.10,335.78 L319.26,337.32 L321.42,338.86 L323.59,340.39 L325.75,341.92 L327.91,343.44 L330.07,344.96 L332.23,346.49 L334.39,348.00 L336.55,349.52 L338.72,351.04 L340.88,352.55 L343.04,354.07 L345.20,355.58 L347.36,357.09 L349.52,358.60 L351.68,360.11 L353.85,361.62 L356.01,363.13 L358.17,364.65 L360.33,366.16 L362.49,367.67 L364.65,369.18 L366.82,370.70 L368.98,372.21 L371.14,373.73 L373.30,375.25 L375.46,376.76 L377.62,378.28 L379.78,379.80 L381.95,381.32 L384.11,382.84 L386.27,384.36 L388.43,385.88 L390.59,387.40 L392.75,388.92 L394.91,390.44 L397.08,391.96 L399.24,393.48 L401.40,395.00 L403.56,396.51 L405.72,398.03 L407.88,399.55 L410.05,401.07 L412.21,402.58 L414.37,404.10 L416.53,405.62 L418.69,407.13 L420.85,408.65 L423.01,410.16 L425.18,411.68 L427.34,413.19 L429.50,414.70 L431.66,416.21 L433.82,417.73 L435.98,419.24 L438.14,420.75 L440.31,422.26 L442.47,423.77 L444.63,425.28 L446.79,426.79 L448.95,428.30 L451.11,429.81 L453.28,431.32 L455.44,432.83 L457.60,434.34 L459.76,435.84 L461.92,437.36 L464.08,438.87 L466.24,440.38 L468.41,441.89 L470.57,443.40 L472.73,444.92 L474.89,446.43 L477.05,447.95 L479.21,449.47 L481.38,450.98 L483.54,452.51 L485.70,454.03 L487.86,455.55 L490.02,457.08 L492.18,458.61 L494.34,460.15 L496.51,461.68 L498.67,463.23 L500.83,464.77 L502.99,466.32 L505.15,467.87 L507.31,469.43 L509.47,470.99 L511.64,472.56 L513.80,474.14 L515.96,475.72 L518.12,477.31 L520.28,478.90 L522.44,480.51 L524.61,482.12" fill="none" stroke="#7f0000" stroke-width="3" stroke-linejoin="round" stroke-linecap="round"/>
<circle cx="158.4" cy="194.5" r="8.4" fill="#7f0000"/><circle cx="158.4" cy="194.5" r="8.4" fill="url(#g_wine)"/>
<path d="M134.70,305.60 L134.98,306.02 L135.25,306.53 L135.53,307.13 L135.80,307.82 L136.08,308.67 L136.35,309.59 L136.63,310.48 L136.90,311.35 L137.18,312.23 L137.45,313.12 L137.73,314.02 L138.00,314.91 L138.28,315.83 L138.55,316.82 L138.83,317.91 L139.10,319.08 L139.38,320.31 L139.65,321.59 L139.93,322.92 L140.21,324.28 L140.48,325.67 L140.76,327.08 L141.03,328.50 L141.31,329.93 L141.58,331.34 L141.86,332.82 L142.13,334.34 L142.41,335.87 L142.68,337.38 L142.96,338.83 L143.23,340.20 L143.51,341.55 L143.78,342.85 L144.06,344.14 L144.33,345.39 L144.61,346.62 L144.88,347.83 L145.16,349.01 L145.43,350.17 L145.71,351.31 L145.99,352.42 L146.26,353.52 L146.54,354.61 L146.81,355.67 L147.09,356.71 L147.36,357.74 L147.64,358.76 L147.91,359.76 L148.19,360.74 L148.46,361.71 L148.74,362.67 L149.01,363.62 L149.29,364.55 L149.56,365.47 L149.84,366.38 L150.11,367.27 L150.39,368.16 L150.66,369.04 L150.94,369.90 L151.22,370.76 L151.49,371.60 L151.77,372.44 L152.04,373.26 L152.32,374.08 L152.59,374.89 L152.87,375.69 L153.14,376.48 L153.42,377.27 L153.69,378.04 L153.97,378.81 L154.24,379.57 L154.52,380.33 L154.79,381.07 L155.07,381.81 L155.34,382.55 L155.62,383.27 L155.89,383.99 L156.17,384.71 L156.44,385.41 L156.72,386.12 L157.00,386.81 L157.27,387.50 L157.55,388.19 L157.82,388.86 L158.10,389.54 L158.37,390.21 L158.65,390.87 L158.92,391.53 L159.20,392.18 L159.47,392.83 L159.75,393.47 L160.02,394.11 L160.30,394.74 L160.57,395.37 L160.85,396.00 L161.12,396.62 L161.40,397.23 L161.67,397.84 L161.95,398.45 L162.23,399.05 L162.50,399.65 L162.78,400.25 L163.05,400.84 L163.33,401.43 L163.60,402.01 L163.88,402.59 L164.15,403.17 L164.43,403.74 L164.70,404.31 L164.98,404.88 L165.25,405.44 L165.53,406.00 L165.80,406.56 L166.08,407.11 L166.35,407.66 L166.63,408.21 L166.90,408.75 L167.18,409.29 L167.45,409.83 L167.73,410.36 L168.01,410.89 L168.28,411.42 L168.56,411.95 L168.83,412.47 L169.11,412.99 L169.38,413.50 L169.66,414.02 L169.93,414.53 L170.21,415.04 L170.48,415.55 L170.76,416.05 L171.03,416.55 L171.31,417.05 L171.58,417.55 L171.86,418.04 L172.13,418.53 L172.41,419.02 L172.68,419.51 L172.96,419.99 L173.24,420.47 L173.51,420.95 L173.79,421.43 L174.06,421.91 L174.34,422.38 L174.61,422.85 L174.89,423.32 L175.16,423.79 L175.44,424.25 L175.71,424.71 L175.99,425.17 L176.26,425.63 L176.54,426.09 L176.81,426.54 L177.09,427.00 L177.36,427.45 L177.64,427.90 L177.91,428.34 L178.19,428.79 L178.46,429.23 L178.74,429.67 L179.02,430.11 L179.29,430.55 L179.57,430.99 L179.84,431.42 L180.12,431.85 L180.39,432.28 L180.67,432.71 L180.94,433.14 L181.22,433.57 L181.49,433.99 L181.77,434.41 L182.04,434.83 L182.32,435.25 L182.59,435.67 L182.87,436.09 L183.14,436.50 L183.42,436.91 L183.69,437.32 L183.97,437.73 L184.25,438.14 L184.52,438.55 L184.80,438.95 L185.07,439.36 L185.35,439.76 L185.62,440.16 L185.90,440.56 L186.17,440.96 L186.45,441.36 L186.72,441.75 L187.00,442.15 L187.27,442.54 L187.55,442.93 L187.82,443.32 L188.10,443.71 L188.37,444.10 L188.65,444.48 L188.92,444.87 L189.20,445.25 L189.47,445.63 L189.75,446.01 L190.03,446.39 L190.30,446.77 L190.58,447.15 L190.85,447.53 L191.13,447.90 L191.40,448.27 L191.68,448.65 L191.95,449.02 L192.23,449.39 L192.50,449.76 L192.78,450.13 L193.05,450.49 L193.33,450.86 L193.60,451.22 L193.88,451.59 L194.15,451.95 L194.43,452.31 L194.70,452.67 L194.98,453.03 L195.26,453.39 L195.53,453.74 L195.81,454.10 L196.08,454.45 L196.36,454.81 L196.63,455.16 L196.91,455.51 L197.18,455.86 L197.46,456.21 L197.73,456.56 L198.01,456.91 L198.28,457.26 L198.56,457.60 L198.83,457.95 L199.11,458.29 L199.38,458.63 L199.66,458.97 L199.93,459.32 L200.21,459.66 L200.48,459.99 L200.76,460.33 L201.04,460.67 L201.31,461.01 L201.59,461.34 L201.86,461.68 L202.14,462.01 L202.41,462.34 L202.69,462.67 L202.96,463.01 L203.24,463.34 L203.51,463.66 L203.79,463.99 L204.06,464.32 L204.34,464.65 L204.61,464.97 L204.89,465.30 L205.16,465.62 L205.44,465.95 L205.71,466.27 L205.99,466.59 L206.27,466.91 L206.54,467.23 L206.82,467.55 L207.09,467.87 L207.37,468.19 L207.64,468.50 L207.92,468.82 L208.19,469.13 L208.47,469.45 L208.74,469.76 L209.02,470.08 L209.29,470.39 L209.57,470.70 L209.84,471.01 L210.12,471.32 L210.39,471.63 L210.67,471.94 L210.94,472.25 L211.22,472.55 L211.49,472.86 L211.77,473.17 L212.05,473.47 L212.32,473.78 L212.60,474.08 L212.87,474.38 L213.15,474.68 L213.42,474.99 L213.70,475.29 L213.97,475.59 L214.25,475.89 L214.52,476.19 L214.80,476.48 L215.07,476.78 L215.35,477.08 L215.62,477.37 L215.90,477.67 L216.17,477.96 L216.45,478.26 L216.72,478.55 L217.00,478.84" fill="none" stroke="#7f7f00" stroke-width="3" stroke-linejoin="round" stroke-linecap="round"/>
<circle cx="141.3" cy="324.8" r="8.4" fill="#7f7f00"/><circle cx="141.3" cy="324.8" r="8.4" fill="url(#g_olive)"/>
</g>
<text x="124.2" y="121.6" font-size="22.5" letter-spacing="0.4" text-anchor="end">0,1</text><text x="124.2" y="242.4" font-size="22.5" letter-spacing="0.4" text-anchor="end">0,01</text><text x="124.2" y="363.1" font-size="22.5" letter-spacing="0.4" text-anchor="end">0,001</text><text x="124.6" y="483.3" font-size="22.5" letter-spacing="0.4" text-anchor="end">1E-4</text>
<text x="134.0" y="503.3" font-size="22.5" letter-spacing="0.4" text-anchor="middle">0,0</text><text x="235.8" y="503.3" font-size="22.5" letter-spacing="0.4" text-anchor="middle">0,2</text><text x="337.6" y="503.3" font-size="22.5" letter-spacing="0.4" text-anchor="middle">0,4</text><text x="439.4" y="503.3" font-size="22.5" letter-spacing="0.4" text-anchor="middle">0,6</text><text x="541.2" y="503.3" font-size="22.5" letter-spacing="0.4" text-anchor="middle">0,8</text><text x="643.0" y="503.3" font-size="22.5" letter-spacing="0.4" text-anchor="middle">1,0</text>
<text x="31.5" y="93.7" font-size="24">b)</text>
<text font-size="33.8" font-style="italic" letter-spacing="0.8" x="361.4" y="538.6">T/T<tspan font-size="23" dy="9">c</tspan></text>
<text font-size="33.8" font-style="italic" letter-spacing="0.2" transform="translate(48.8,288.0) rotate(-90)">I<tspan font-size="23" dy="9.6">c</tspan><tspan dy="-9.6">/I</tspan><tspan font-size="23" dy="9.6">0</tspan></text>
<text font-size="17" font-style="italic" letter-spacing="0.35" x="651.7" y="100.4">L=5 ξ<tspan font-size="11.5" dy="4">N</tspan></text>
<text font-size="17" font-style="italic" letter-spacing="0.35" x="651" y="128">γ<tspan font-size="11.5" dy="4.3">BM</tspan></text>
<line x1="651.5" x2="691" y1="148.3" y2="148.3" stroke="#000000" stroke-width="3" stroke-linecap="round"/>
<text x="695.3" y="153.9" font-size="17" letter-spacing="0.35">0.001</text>
<line x1="651.5" x2="691" y1="170.1" y2="170.1" stroke="#ff0000" stroke-width="3" stroke-linecap="round"/>
<text x="695.3" y="175.7" font-size="17" letter-spacing="0.35">0.01</text>
<line x1="651.5" x2="691" y1="191.9" y2="191.9" stroke="#0000ff" stroke-width="3" stroke-linecap="round"/>
<text x="695.3" y="197.5" font-size="17" letter-spacing="0.35">0.1</text>
<line x1="651.5" x2="691" y1="213.7" y2="213.7" stroke="#007f00" stroke-width="3" stroke-linecap="round"/>
<text x="695.3" y="219.3" font-size="17" letter-spacing="0.35">0.5</text>
<line x1="651.5" x2="691" y1="235.5" y2="235.5" stroke="#7f00ff" stroke-width="3" stroke-linecap="round"/>
<text x="695.3" y="241.1" font-size="17" letter-spacing="0.35">1</text>
<line x1="651.5" x2="691" y1="257.3" y2="257.3" stroke="#ff7f00" stroke-width="3" stroke-linecap="round"/>
<text x="695.3" y="262.9" font-size="17" letter-spacing="0.35">2</text>
<line x1="651.5" x2="691" y1="279.1" y2="279.1" stroke="#00ffff" stroke-width="3" stroke-linecap="round"/>
<text x="695.3" y="284.7" font-size="17" letter-spacing="0.35">5</text>
<line x1="651.5" x2="691" y1="300.9" y2="300.9" stroke="#7f0000" stroke-width="3" stroke-linecap="round"/>
<text x="695.3" y="306.5" font-size="17" letter-spacing="0.35">10</text>
<line x1="651.5" x2="691" y1="322.7" y2="322.7" stroke="#7f7f00" stroke-width="3" stroke-linecap="round"/>
<text x="695.3" y="328.3" font-size="17" letter-spacing="0.35">100</text>
</svg>
</body></html>
